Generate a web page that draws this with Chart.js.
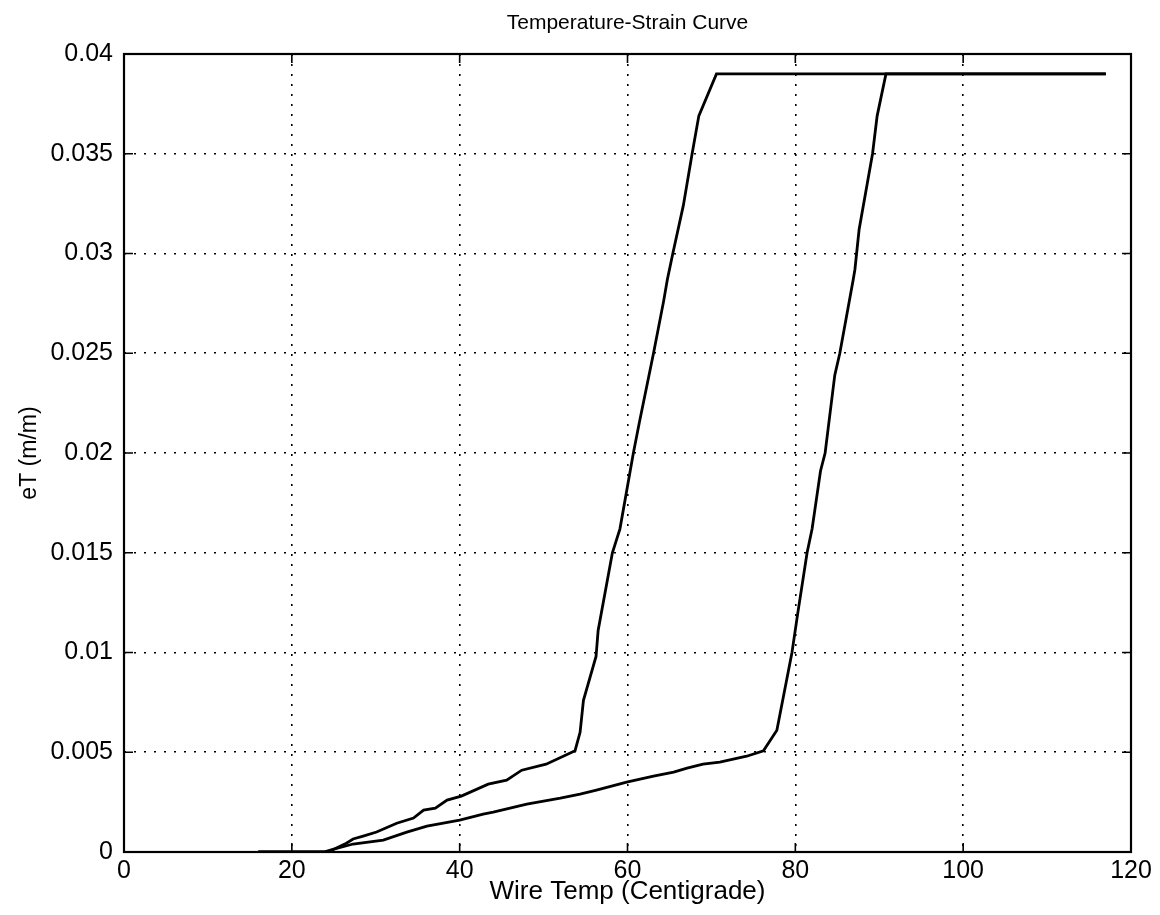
<!DOCTYPE html>
<html>
<head>
<meta charset="utf-8">
<script src="https://cdn.jsdelivr.net/npm/chart.js@4.4.1/dist/chart.umd.min.js"></script>
<style>
  html, body { margin: 0; padding: 0; background: #fff; }
  #wrap { width: 1160px; height: 915px; }
</style>
</head>
<body>
<div id="wrap"><canvas id="strainChart"></canvas></div>
<script>
// heating branch (lower / right side of the loop)
const heatTemp   = [16, 24.5, 25, 27.3, 30.9, 33.7, 36.1, 40, 42.8, 44, 48, 52, 54.35, 56.3, 59.9, 63.1, 65.5, 67.1, 69, 71, 74.2, 76.2, 77.8, 79.6, 80.3, 81.4, 82.0, 83.0, 83.55, 84.7, 85.3, 86.9, 87.1, 87.3, 87.6, 89.2, 89.75, 90.8, 117]
const heatStrain = [0, 0, 0.00014, 0.0004, 0.0006, 0.001, 0.0013, 0.0016, 0.0019, 0.002, 0.0024, 0.0027, 0.0029, 0.0031, 0.0035, 0.0038, 0.004, 0.0042, 0.0044, 0.0045, 0.0048, 0.00507, 0.0061, 0.01, 0.012, 0.015, 0.0162, 0.0191, 0.02, 0.0239, 0.025, 0.0287, 0.0292, 0.03, 0.0312, 0.035, 0.0369, 0.039, 0.039]

// cooling branch (upper / left side), from hot back to cold
const coolTemp   = [117, 70.6, 68.5, 67.7, 66.65, 65.4, 64.75, 64.3, 63.1, 61.4, 60.7, 59.1, 58.2, 56.5, 56.25, 54.75, 54.35, 53.75, 50.3, 47.4, 45.6, 43.4, 40.2, 38.5, 37.1, 35.7, 34.5, 32.5, 30.1, 28.5, 27.3, 26.5, 25, 23.8, 16]
const coolStrain = [0.039, 0.039, 0.0369, 0.035, 0.0324, 0.03, 0.0287, 0.0276, 0.025, 0.0215, 0.02, 0.0162, 0.015, 0.0111, 0.0098, 0.0076, 0.006, 0.00508, 0.0044, 0.0041, 0.0036, 0.0034, 0.0028, 0.0026, 0.0022, 0.0021, 0.0017, 0.00144, 0.001, 0.0008, 0.00065, 0.00044, 0.00014, 0, 0]

const xTicks = [0, 20, 40, 60, 80, 100, 120]
const yTicks = [0, 0.005, 0.01, 0.015, 0.02, 0.025, 0.03, 0.035, 0.04]

const chartTitle = 'Temperature-Strain Curve'
const fontFam = 'Liberation Sans, Arial, sans-serif'

const pts = (xs, ys) => xs.map((x, i) => ({ x: x, y: ys[i] }))

// title centred over the plot, box around the plot, short inward ticks on all four sides
const boxTicks = {
  id: 'boxTicks',
  afterDraw(chart) {
    const { ctx, chartArea: a, scales } = chart
    const len = 9
    ctx.save()
    ctx.fillStyle = '#000'
    ctx.font = '21px ' + fontFam
    ctx.textAlign = 'center'
    ctx.textBaseline = 'middle'
    ctx.fillText(chartTitle, (a.left + a.right) / 2, 23)

    ctx.strokeStyle = '#000'
    ctx.lineWidth = 2.2
    ctx.strokeRect(a.left, a.top, a.right - a.left, a.bottom - a.top)
    ctx.lineWidth = 1.6
    ctx.beginPath()
    xTicks.forEach(t => {
      const px = scales.x.getPixelForValue(t)
      ctx.moveTo(px, a.bottom); ctx.lineTo(px, a.bottom - len)
      ctx.moveTo(px, a.top); ctx.lineTo(px, a.top + len)
    })
    yTicks.forEach(t => {
      const py = scales.y.getPixelForValue(t)
      ctx.moveTo(a.left, py); ctx.lineTo(a.left + len, py)
      ctx.moveTo(a.right, py); ctx.lineTo(a.right - len, py)
    })
    ctx.stroke()
    ctx.restore()
  }
}

const lineStyle = {
  showLine: true,
  borderColor: '#000',
  borderWidth: 2.8,
  pointRadius: 0,
  fill: false,
  tension: 0
}

const gridStyle = {
  color: '#000',
  lineWidth: 1.6,
  drawTicks: false
}

new Chart(document.getElementById('strainChart'), {
  type: 'scatter',
  data: {
    datasets: [
      Object.assign({ label: 'heating', data: pts(heatTemp, heatStrain) }, lineStyle),
      Object.assign({ label: 'cooling', data: pts(coolTemp, coolStrain) }, lineStyle)
    ]
  },
  options: {
    responsive: true,
    maintainAspectRatio: false,
    animation: false,
    layout: { padding: { left: 0, right: 29, top: 54, bottom: 0 } },
    plugins: {
      legend: { display: false },
      tooltip: { enabled: false },
      title: { display: false }
    },
    scales: {
      x: {
        type: 'linear',
        min: 0, max: 120,
        afterFit: s => { s.height = 63 },
        afterBuildTicks: s => { s.ticks = xTicks.map(v => ({ value: v })) },
        border: { display: false, dash: [2, 8] },
        grid: gridStyle,
        ticks: {
          color: '#000',
          padding: 4,
          maxRotation: 0,
          font: { family: fontFam, size: 25 }
        },
        title: {
          display: true,
          text: 'Wire Temp (Centigrade)',
          color: '#000',
          font: { family: fontFam, size: 26, lineHeight: 1.2 },
          padding: { top: 0, bottom: 8 }
        }
      },
      y: {
        type: 'linear',
        min: 0, max: 0.04,
        afterFit: s => { s.width = 124 },
        afterBuildTicks: s => { s.ticks = yTicks.map(v => ({ value: v })) },
        border: { display: false, dash: [2, 8] },
        grid: gridStyle,
        ticks: {
          color: '#000',
          padding: 11,
          font: { family: fontFam, size: 25 },
          callback: v => String(+v.toFixed(3))
        },
        title: {
          display: true,
          text: 'eT (m/m)',
          color: '#000',
          font: { family: fontFam, size: 23, lineHeight: 1.2 },
          padding: { top: 16, bottom: 0 }
        }
      }
    }
  },
  plugins: [boxTicks]
})
</script>
</body>
</html>
